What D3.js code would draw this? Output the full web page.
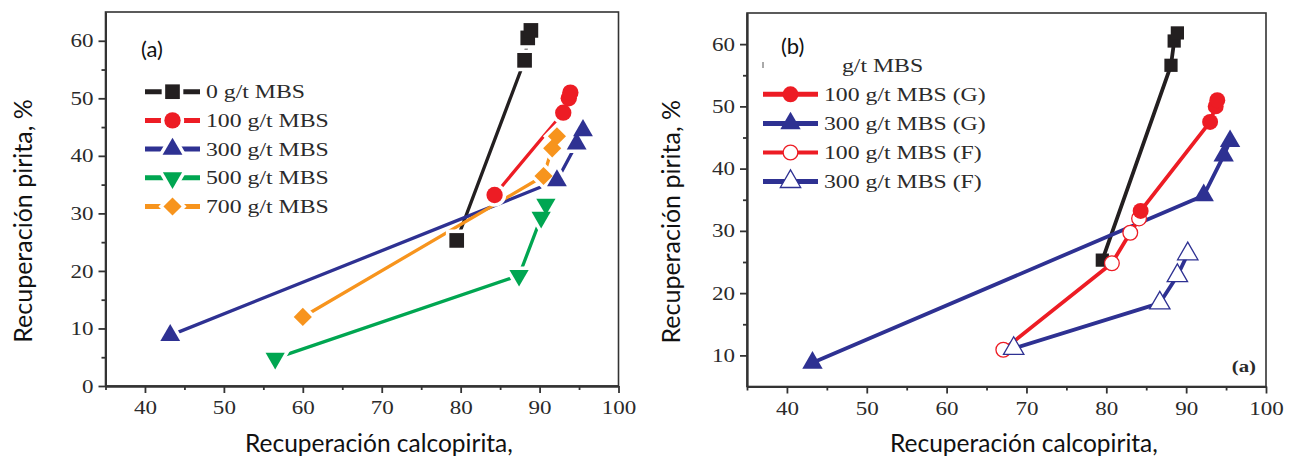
<!DOCTYPE html>
<html>
<head>
<meta charset="utf-8">
<title>Recuperación pirita vs calcopirita</title>
<script src="https://d3js.org/d3.v7.min.js"></script>
<style>
  body { margin: 0; background: #fff; }
  svg { display: block; }
  .serif { font-family: "Liberation Serif", "Times New Roman", serif; fill: #2a2a2a; }
  .sans { font-family: Lato, "Open Sans", sans-serif; fill: #111; }
</style>
</head>
<body>
<svg id="chart" width="1293" height="461"></svg>
<script>
// ---- data ----
const xTicks = [40, 50, 60, 70, 80, 90, 100];
const xMinor = [35, 45, 55, 65, 75, 85, 95];
const yTicksA = [0, 10, 20, 30, 40, 50, 60];
const yMinorA = [5, 15, 25, 35, 45, 55];
const yTicksB = [10, 20, 30, 40, 50, 60];
const yMinorB = [15, 25, 35, 45, 55];

const mbs0X = [79.5, 88.1, 88.5, 88.9],   mbs0Y = [25.3, 56.6, 60.5, 61.8];
const mbs100X = [84.3, 93.0, 93.7, 93.9], mbs100Y = [33.2, 47.5, 50.0, 51.0];
const mbs300X = [43.2, 92.2, 94.7, 95.5], mbs300Y = [8.8, 35.7, 42.1, 44.4];
const mbs500X = [56.5, 87.4, 90.2, 90.8], mbs500Y = [4.8, 19.2, 29.3, 31.6];
const mbs700X = [60.0, 90.5, 91.6, 92.2], mbs700Y = [12.0, 36.5, 41.3, 43.4];
const f100X = [67.1, 80.7, 83.0, 84.1],   f100Y = [10.9, 24.8, 29.7, 32.0];
const f300X = [68.4, 86.7, 88.9, 90.2],   f300Y = [11.1, 18.4, 22.8, 26.3];

const legendA = ["0 g/t MBS", "100 g/t MBS", "300 g/t MBS", "500 g/t MBS", "700 g/t MBS"];
const legendB = ["100 g/t MBS (G)", "300 g/t MBS (G)", "100 g/t MBS (F)", "300 g/t MBS (F)"];
const yTitle = "Recuperación pirita, %";
const xTitle = "Recuperación calcopirita,";

// ---- styles ----
const black = "#231f20", red = "#ed1c24", blue = "#2e3192", green = "#00a651", orange = "#f7941d";
const svg = d3.select("#chart");

function zip(xs, ys) { return xs.map(function(x, i) { return [x, ys[i]]; }); }

function symbolPath(shape, size) {
  let type = {square: d3.symbolSquare, circle: d3.symbolCircle, triangle: d3.symbolTriangle,
              down: d3.symbolTriangle, diamond: d3.symbolSquare}[shape];
  return d3.symbol().type(type).size(size)();
}
function symbolRotate(shape) {
  return shape == "down" ? " rotate(180)" : shape == "diamond" ? " rotate(45)" : "";
}

function stretched(g, x, y, str, cls, size, sx, anchor) {
  return g.append("text")
    .attr("class", cls)
    .attr("transform", "translate(" + x + "," + y + ") scale(" + sx + ",1)")
    .attr("font-size", size)
    .attr("text-anchor", anchor || "start")
    .text(str);
}

function drawHalo(g, cx, cy, s) {
  g.append("path")
    .attr("d", symbolPath(s.shape, s.size))
    .attr("transform", "translate(" + cx + "," + cy + ")" + symbolRotate(s.shape))
    .attr("fill", "#fff").attr("stroke", "#fff").attr("stroke-width", 7);
}
function drawMarker(g, cx, cy, s) {
  g.append("path")
    .attr("d", symbolPath(s.shape, s.size))
    .attr("transform", "translate(" + cx + "," + cy + ")" + symbolRotate(s.shape))
    .attr("fill", s.open ? "#fff" : s.color)
    .attr("stroke", s.color)
    .attr("stroke-width", s.open ? 1.3 : 0);
}

function drawPanel(p) {
  let x = d3.scaleLinear().domain([35, 100]).range(p.xRange);
  let y = d3.scaleLinear().domain(p.yDomain).range(p.yRange);
  let g = svg.append("g");

  // frame
  g.append("rect")
    .attr("x", p.xRange[0]).attr("y", p.yRange[1])
    .attr("width", p.xRange[1] - p.xRange[0]).attr("height", p.yRange[0] - p.yRange[1])
    .attr("fill", "none").attr("stroke", "#333").attr("stroke-width", 1.6);

  // axes
  let xMin = g.append("g").attr("transform", "translate(0," + p.yRange[0] + ")")
    .call(d3.axisBottom(x).tickValues(xMinor).tickSize(4).tickSizeOuter(0).tickFormat(""));
  let xAx = g.append("g").attr("transform", "translate(0," + p.yRange[0] + ")")
    .call(d3.axisBottom(x).tickValues(xTicks).tickSize(7).tickSizeOuter(0));
  let yMin = g.append("g").attr("transform", "translate(" + p.xRange[0] + ",0)")
    .call(d3.axisLeft(y).tickValues(p.yMinor).tickSize(4).tickSizeOuter(0).tickFormat(""));
  let yAx = g.append("g").attr("transform", "translate(" + p.xRange[0] + ",0)")
    .call(d3.axisLeft(y).tickValues(p.yTicks).tickSize(7).tickSizeOuter(0));
  [xMin, xAx, yMin, yAx].forEach(function(a) {
    a.selectAll("path, line").attr("stroke", "#333").attr("stroke-width", 1.8);
    a.attr("font-family", null).attr("font-size", null);
  });
  xAx.selectAll("text")
    .attr("class", "serif").attr("font-size", 18)
    .attr("y", 0).attr("dy", 0)
    .attr("transform", "translate(0,28) scale(1.28,1)");
  yAx.selectAll("text")
    .attr("class", "serif").attr("font-size", 18)
    .attr("x", 0).attr("dy", "0.34em")
    .attr("transform", "translate(-12,0) scale(1.28,1)");

  // axis titles
  g.append("text").attr("class", "sans").attr("font-size", 25)
    .attr("transform", "translate(" + p.yTitleX + "," + ((p.yRange[0] + p.yRange[1]) / 2 + 22) + ") rotate(-90)")
    .attr("text-anchor", "middle").text(yTitle);
  g.append("text").attr("class", "sans").attr("font-size", 24.5)
    .attr("x", p.xTitleX).attr("y", 452).text(xTitle);
  g.append("text").attr("class", "sans").attr("font-size", 22)
    .attr("x", p.tag[0]).attr("y", p.tag[1]).text(p.tagText);

  // lines
  let line = d3.line().x(function(d) { return x(d[0]); }).y(function(d) { return y(d[1]); });
  p.series.forEach(function(s) {
    g.append("path")
      .datum(zip(s.x, s.y))
      .attr("d", line)
      .attr("fill", "none")
      .attr("stroke", s.color)
      .attr("stroke-width", p.lineWidth)
      .attr("stroke-linejoin", "round");
  });
  // white gaps round the symbols, then the symbols
  if (p.halo) {
    p.series.forEach(function(s) {
      zip(s.x, s.y).forEach(function(d) { drawHalo(g, x(d[0]), y(d[1]), s); });
    });
  }
  p.series.forEach(function(s) {
    zip(s.x, s.y).forEach(function(d) { drawMarker(g, x(d[0]), y(d[1]), s); });
  });

  // legend
  let lg = g.append("g");
  p.legend.forEach(function(label, i) {
    let s = p.series[p.legendSeries[i]];
    let cy = p.legendY + i * p.legendStep;
    let xm = (p.legendX[0] + p.legendX[1]) / 2;
    lg.append("line")
      .attr("x1", p.legendX[0]).attr("x2", p.legendX[1])
      .attr("y1", cy).attr("y2", cy)
      .attr("stroke", s.color)
      .attr("stroke-width", s.legendWidth || 5);
    if (p.halo) drawHalo(lg, xm, cy, s);
    drawMarker(lg, xm, cy, s);
    stretched(lg, p.legendX[1] + 6, cy + 6.5, label, "serif", 19, 1.25);
  });
  return g;
}

// ---- panel (a) ----
drawPanel({
  xRange: [105.5, 618.5], yRange: [386, 12], yDomain: [0, 65],
  yTicks: yTicksA, yMinor: yMinorA,
  yTitleX: 32, xTitleX: 245, tag: [141, 57], tagText: "(a)",
  lineWidth: 3.3, halo: true,
  series: [
    {x: mbs0X, y: mbs0Y, color: black, shape: "square", size: 215},
    {x: mbs100X, y: mbs100Y, color: red, shape: "circle", size: 210},
    {x: mbs300X, y: mbs300Y, color: blue, shape: "triangle", size: 170},
    {x: mbs500X, y: mbs500Y, color: green, shape: "down", size: 160},
    {x: mbs700X, y: mbs700Y, color: orange, shape: "diamond", size: 165}
  ],
  legend: legendA, legendSeries: [0, 1, 2, 3, 4],
  legendX: [145, 200], legendY: 91.7, legendStep: 28.7
});

// ---- panel (b) ----
let gb = drawPanel({
  xRange: [747, 1266], yRange: [386.5, 13], yDomain: [5, 65],
  yTicks: yTicksB, yMinor: yMinorB,
  yTitleX: 680, xTitleX: 890, tag: [781, 54], tagText: "(b)",
  lineWidth: 3.8, halo: false,
  series: [
    {x: mbs0X, y: mbs0Y, color: black, shape: "square", size: 175},
    {x: mbs300X, y: mbs300Y, color: blue, shape: "triangle", size: 180},
    {x: f100X, y: f100Y, color: red, shape: "circle", size: 170, open: true, legendWidth: 4},
    {x: f300X, y: f300Y, color: blue, shape: "triangle", size: 180, open: true},
    {x: mbs100X, y: mbs100Y, color: red, shape: "circle", size: 200}
  ],
  legend: legendB, legendSeries: [4, 1, 2, 3],
  legendX: [763, 818], legendY: 94.3, legendStep: 29.1
});
stretched(gb, 842, 72, "g/t MBS", "serif", 19, 1.25);
gb.append("line").attr("x1", 763).attr("x2", 763).attr("y1", 62).attr("y2", 68)
  .attr("stroke", "#555").attr("stroke-width", 1);
stretched(gb, 1256, 372, "(a)", "serif", 16, 1.3, "end").attr("font-weight", "bold");
</script>
</body>
</html>
